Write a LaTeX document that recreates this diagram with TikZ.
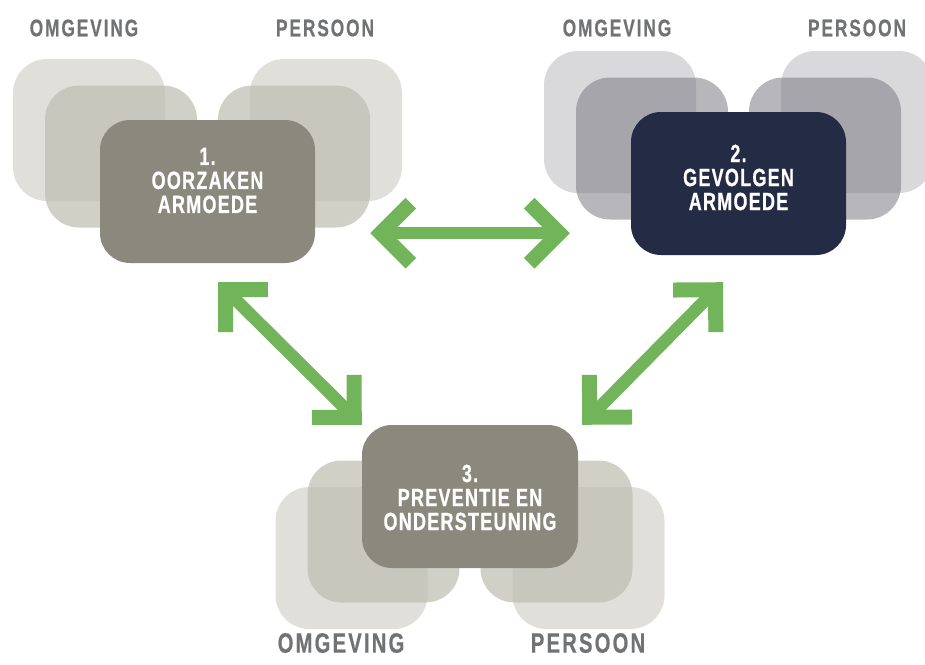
\documentclass[tikz,border=0pt]{standalone}
\usepackage{fontspec}
\setmainfont{Liberation Sans}[FakeStretch=0.72,LetterSpace=5,FakeBold=0.6]
\usetikzlibrary{arrows.meta}

\definecolor{sandback}{HTML}{E0DFD9}
\definecolor{sandmid}{HTML}{C0BFB4}
\definecolor{sandfront}{HTML}{8B897D}
\definecolor{greyback}{HTML}{D9D9DB}
\definecolor{greymid}{HTML}{81818A}
\definecolor{navyfront}{HTML}{232B45}
\definecolor{labelgrey}{HTML}{717274}
\definecolor{arrowgreen}{HTML}{72B45A}

\tikzset{
  sq/.style={rounded corners=34pt, minimum width=152pt, minimum height=142pt, inner sep=0pt},
  mainbox/.style={rounded corners=30pt, minimum width=215pt, minimum height=143pt, inner sep=0pt},
  boxtext/.style={text=white, align=center, inner sep=0pt, font=\bfseries\fontsize{25}{24}\selectfont},
  sidelabel/.style={text=labelgrey, font=\bfseries\fontsize{#1}{#1}\selectfont\addfontfeatures{LetterSpace=8}},
  link/.style={arrowgreen, line width=12.5pt,
    {Straight Barb[length=30pt,width=60pt,line width=15pt]}-{Straight Barb[length=30pt,width=60pt,line width=15pt]}}
}

\begin{document}
\begin{tikzpicture}[x=1pt,y=-1pt]
    \useasboundingbox (0,0) rectangle (925,664);

    % Centres of the three blocks
    \coordinate (c1) at (207.5,191.5);
    \coordinate (c2) at (738.5,183.5);
    \coordinate (c3) at (470,496.5);

    % Squares behind each block: omgeving left, persoon right
    \foreach \c/\s/\back/\mid/\op in {c1/-1/sandback/sandmid/0.74, c2/-1/greyback/greymid/0.58, c3/1/sandback/sandmid/0.74} {
        \foreach \x/\nm in {-1/omg,1/per}
            \node[sq, fill=\back] (\nm back\c) at ([shift={(118.5*\x,61.5*\s)}]\c) {};
        \foreach \x/\nm in {-1/omg,1/per}
            \node[sq, fill=\mid, fill opacity=\op] (\nm mid\c) at ([shift={(86.5*\x,35*\s)}]\c) {};
    }

    % Main boxes
    \node[mainbox, fill=sandfront] (b1) at (c1) {};
    \node[mainbox, fill=navyfront] (b2) at (c2) {};
    \node[mainbox, fill=sandfront, minimum width=216pt] (b3) at (c3) {};
    \node[boxtext] (t1) at ([yshift=11pt]b1.center) {1.\\OORZAKEN\\ARMOEDE};
    \node[boxtext] (t2) at ([yshift=6pt]b2.center) {2.\\GEVOLGEN\\ARMOEDE};
    \node[boxtext] (t3) at ([yshift=-1pt]b3.center) {3.\\PREVENTIE EN\\ONDERSTEUNING};

    % Labels
    \foreach \x/\y/\sz/\txt [count=\i] in {84/28/24/OMGEVING, 325/28/24/PERSOON, 617/28/24/OMGEVING,
        857/28/24/PERSOON, 341/643/28/OMGEVING, 588/643/28/PERSOON}
        \node[sidelabel=\sz] (lab\i) at (\x,\y) {\txt};

    % Arrows between the blocks
    \draw[link] ([shift={(55,-30)}]b1.south east) -- ([shift={(-61,-22)}]b2.south west);
    \draw[link] ([shift={(10.5,19)}]b1.south) -- (b3.north west);
    \draw[link] ([shift={(-15.5,27)}]b2.south) -- ([shift={(4,0)}]b3.north east);
\end{tikzpicture}
\end{document}
